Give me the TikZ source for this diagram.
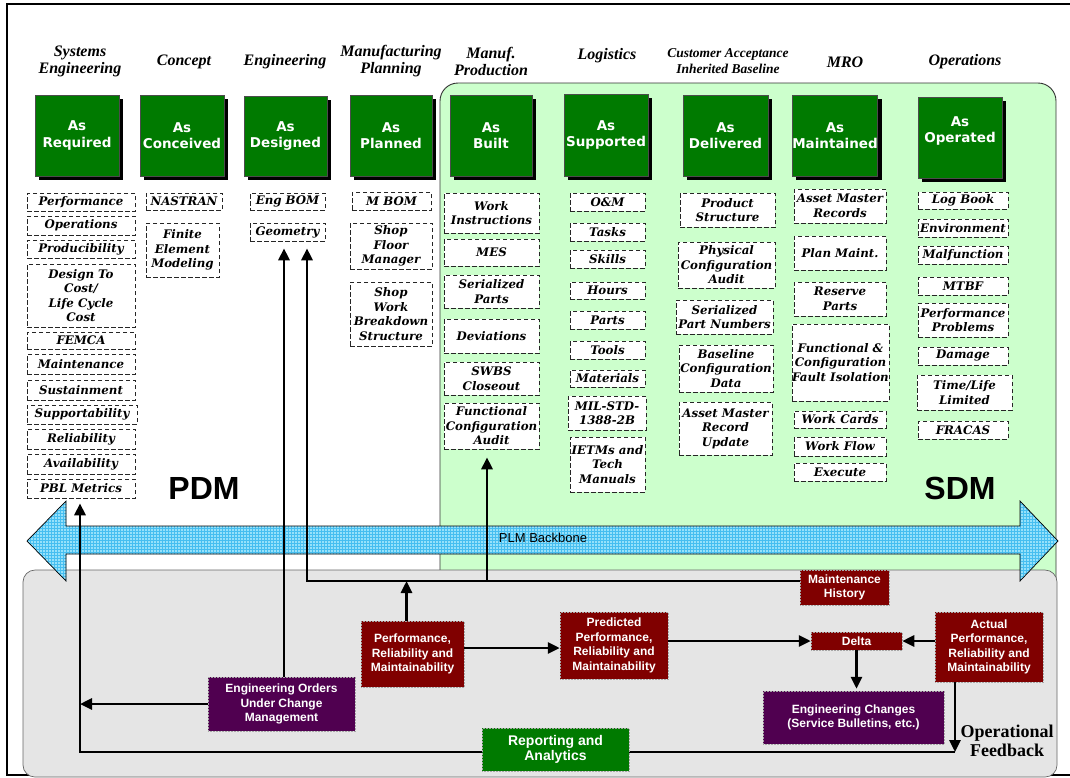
\documentclass[tikz,border=0pt]{standalone}
\usepackage{fontspec}
\setmainfont{Liberation Serif}
\setsansfont{Liberation Sans}
\newfontfamily\itemfont{DejaVu Serif}
\newfontfamily\asfont{DejaVu Sans}
\usetikzlibrary{arrows.meta,shadows,patterns}
\definecolor{hdrgreen}{RGB}{0,122,0}
\definecolor{sdmgreen}{RGB}{204,255,204}
\definecolor{bggray}{RGB}{229,229,229}
\definecolor{darkred}{RGB}{128,0,0}
\definecolor{darkpurple}{RGB}{80,0,80}
\definecolor{bbcyan}{RGB}{150,225,250}
\definecolor{gridcyan}{RGB}{70,190,240}
\newcommand{\mkitem}[6]{\node[item, minimum width={(#4-#2)*1pt}, minimum height={(#5-#3)*1pt}] (#1) at ({(#2+#4)/2},{(#3+#5)/2}) {#6};}
\newcommand{\mkas}[6]{\node[asbox, minimum width={(#4-#2)*1pt}, minimum height={(#5-#3)*1pt}] (#1) at ({(#2+#4)/2},{(#3+#5)/2}) {#6};}
\newcommand{\mkblock}[7]{\node[block, fill=#7, minimum width={(#4-#2)*1pt}, minimum height={(#5-#3)*1pt}] (#1) at ({(#2+#4)/2},{(#3+#5)/2}) {#6};}
\begin{document}
\begin{tikzpicture}[x=1pt,y=-1pt,
  phase/.style={font=\bfseries\itshape\fontsize{16}{17}\selectfont, align=center, inner sep=0pt},
  phasesmall/.style={font=\bfseries\itshape\fontsize{13.5}{15.5}\selectfont, align=center, inner sep=0pt},
  astext/.style={text=white, font=\asfont\bfseries\fontsize{13.5}{16.5}\selectfont, align=center, inner sep=0pt},
  asbox/.style={astext, fill=hdrgreen, draw=black!70, line width=0.5pt,
     drop shadow={opacity=1, fill=black, shadow xshift=4pt, shadow yshift=-4pt}},
  item/.style={draw=black!85, fill=white, line width=0.6pt, dash pattern=on 4.5pt off 2.5pt,
     font=\itemfont\bfseries\itshape\fontsize{11.8}{14.5}\selectfont, align=center, inner sep=0pt},
  block/.style={draw=gray!70, densely dotted, line width=0.5pt, text=white,
     font=\sffamily\bfseries\fontsize{12}{14.5}\selectfont, align=center, inner sep=0pt},
  conn/.style={line width=2.8pt, draw=black},
  arr/.style={conn, -{Triangle[length=12pt,width=11pt]}},
  bigtag/.style={font=\sffamily\bfseries\fontsize{32}{34}\selectfont, inner sep=0pt}
]
\useasboundingbox (0,0) rectangle (1070,777);
\clip (0,0) rectangle (1070,777);
% outer frame
\draw[line width=1.4pt, fill=white] (7,4) rectangle (1080,775);
% SDM region
\draw[fill=sdmgreen, draw=black!80, line width=0.9pt, rounded corners=18pt] (440,600) -- (440,83) -- (1056,83) -- (1056,600);
% gray region
\draw[fill=bggray, draw=black!60, line width=0.7pt, rounded corners=12pt] (23,570) rectangle (1057,777);
% backbone
\draw[preaction={fill=bbcyan}, pattern=grid, pattern color=gridcyan, line width=0.7pt]
  (27,541) -- (66,501) -- (66,526) -- (1020,526) -- (1020,501) -- (1058,541) -- (1020,581) -- (1020,554) -- (66,554) -- (66,581) -- cycle;
\node[font=\sffamily\fontsize{13}{15}\selectfont, inner sep=0pt] (plm) at (543,538) {PLM Backbone};

% phase headers
\node[phase] (h1) at (80,61) {Systems\\Engineering};
\node[phase] (h2) at (184,62) {Concept};
\node[phase] (h3) at (285,62) {Engineering};
\node[phase] (h4) at (391,61) {Manufacturing\\Planning};
\node[phase] (h5) at (491,61) {Manuf.\\Production};
\node[phase] (h6) at (607,56) {Logistics};
\node[phasesmall] (h7) at (728,61) {Customer Acceptance\\Inherited Baseline};
\node[phase] (h8) at (845,62) {MRO};
\node[phase] (h9) at (965,62) {Operations};

% As boxes
\mkas{req}{35}{95}{119}{176}{As\\Required}
\mkas{con}{140}{95}{224}{176}{As\\Conceived}
\mkas{des}{244}{96}{327}{176}{As\\Designed}
\mkas{pla}{350}{95}{432}{176}{As\\Planned}
\mkas{bui}{450}{95}{532}{176}{As\\Built}
\mkas{sup}{564}{94}{648}{176}{As\\Supported}
\mkas{del}{683}{95}{768}{176}{As\\Delivered}
\mkas{mai}{793}{95}{877}{176}{As\\Maintained}
\mkas{ope}{918}{97}{1002}{178}{}
\node[astext] (opetext) at (960,131) {As\\Operated};

% column 1
\mkitem{perf}{27}{193}{135}{211}{Performance}
\mkitem{oper}{27}{216}{135}{235}{Operations}
\mkitem{prod}{27}{240}{135}{258}{Producibility}
\mkitem{dtc}{27}{264}{135}{327}{Design To\\Cost/\\Life Cycle\\Cost}
\mkitem{femca}{27}{332}{135}{349}{FEMCA}
\mkitem{maint}{27}{354}{135}{374}{Maintenance}
\mkitem{sust}{27}{380}{135}{400}{Sustainment}
\mkitem{suppt}{27}{405}{137}{424}{Supportability}
\mkitem{rel}{27}{429}{135}{449}{Reliability}
\mkitem{avail}{27}{454}{135}{474}{Availability}
\mkitem{pbl}{27}{479}{135}{498}{PBL Metrics}
% column 2
\mkitem{nastran}{146}{193}{222}{210}{NASTRAN}
\mkitem{fem}{146}{223}{219}{277}{Finite\\Element\\Modeling}
% column 3
\mkitem{engbom}{250}{193}{325}{210}{Eng BOM}
\mkitem{geom}{250}{223}{325}{241}{Geometry}
% column 4
\mkitem{mbom}{352}{192}{431}{210}{M BOM}
\mkitem{sfm}{350}{223}{432}{269}{Shop\\Floor\\Manager}
\mkitem{swbs}{350}{282}{432}{346}{Shop\\Work\\Breakdown\\Structure}
% column 5
\mkitem{wi}{444}{193}{539}{233}{Work\\Instructions}
\mkitem{mes}{444}{239}{539}{266}{MES}
\mkitem{serp}{444}{275}{539}{308}{Serialized\\Parts}
\mkitem{dev}{444}{319}{539}{353}{Deviations}
\mkitem{swbsc}{444}{362}{539}{395}{SWBS\\Closeout}
\mkitem{fca}{444}{403}{539}{449}{Functional\\Configuration\\Audit}
% column 6
\mkitem{om}{570}{193}{645}{211}{O\&M}
\mkitem{tasks}{570}{223}{645}{241}{Tasks}
\mkitem{skills}{570}{250}{645}{268}{Skills}
\mkitem{hours}{570}{282}{645}{299}{Hours}
\mkitem{parts}{570}{311}{645}{329}{Parts}
\mkitem{tools}{570}{341}{645}{359}{Tools}
\mkitem{mat}{570}{370}{645}{387}{Materials}
\mkitem{mil}{568}{396}{646}{430}{MIL-STD-\\1388-2B}
\mkitem{ietm}{570}{437}{645}{492}{IETMs and\\Tech\\Manuals}
% column 7
\mkitem{ps}{680}{193}{775}{227}{Product\\Structure}
\mkitem{pca}{678}{242}{775}{288}{Physical\\Configuration\\Audit}
\mkitem{spn}{676}{300}{773}{334}{Serialized\\Part Numbers}
\mkitem{bcd}{679}{345}{773}{392}{Baseline\\Configuration\\Data}
\mkitem{amru}{679}{402}{772}{455}{Asset Master\\Record\\Update}
% column 8
\mkitem{amr}{794}{189}{886}{223}{Asset Master\\Records}
\mkitem{pm}{794}{236}{886}{270}{Plan Maint.}
\mkitem{rp}{794}{282}{886}{316}{Reserve\\Parts}
\mkitem{fcfi}{792}{324}{889}{401}{Functional \&\\Configuration\\Fault Isolation}
\mkitem{wc}{794}{411}{886}{428}{Work Cards}
\mkitem{wf}{794}{437}{886}{456}{Work Flow}
\mkitem{exe}{794}{463}{886}{481}{Execute}
% column 9
\mkitem{lb}{918}{192}{1008}{209}{Log Book}
\mkitem{env}{918}{219}{1008}{237}{Environment}
\mkitem{mal}{918}{246}{1008}{264}{Malfunction}
\mkitem{mtbf}{918}{277}{1008}{295}{MTBF}
\mkitem{pp}{918}{303}{1008}{337}{Performance\\Problems}
\mkitem{dmg}{918}{347}{1008}{365}{Damage}
\mkitem{tll}{917}{375}{1012}{410}{Time/Life\\Limited}
\mkitem{fracas}{918}{421}{1008}{439}{FRACAS}

\node[bigtag] (pdm) at (204,488) {PDM};
\node[bigtag] (sdm) at (960,488) {SDM};

% bottom blocks
\mkblock{eo}{208}{677}{355}{731}{Engineering Orders\\Under Change\\Management}{darkpurple}
\mkblock{prm}{361}{621}{464}{687}{Performance,\\Reliability and\\Maintainability}{darkred}
\mkblock{pred}{560}{612}{668}{679}{Predicted\\Performance,\\Reliability and\\Maintainability}{darkred}
\mkblock{mh}{800}{570}{889}{605}{Maintenance\\History}{darkred}
\mkblock{delta}{811}{632}{902}{650}{Delta}{darkred}
\mkblock{act}{935}{612}{1043}{682}{Actual\\Performance,\\Reliability and\\Maintainability}{darkred}
\mkblock{ec}{763}{691}{944}{744}{Engineering Changes\\(Service Bulletins, etc.)}{darkpurple}

% connectors
\coordinate (j1) at (307,581);
\coordinate (j2) at (487,581);
\coordinate (c1) at (955,752);
\coordinate (c2) at (80,752);
\draw[arr, shorten >=7pt] (j1 -| mh.west) -- (j1) -- (j1 |- geom.south);
\draw[arr, shorten >=8pt] (j2) -- (j2 |- fca.south);
\draw[arr, shorten >=7pt] ([xshift=2.5pt]eo.north) -- ([xshift=2.5pt]eo.north |- geom.south);
\draw[arr] ([xshift=-6pt]prm.north) -- ([xshift=-6pt]prm.north |- j1);
\draw[arr] ([yshift=6pt]prm.east) -- ([yshift=6pt]prm.east -| pred.west);
\draw[arr] (pred.east |- delta.west) -- (delta.west);
\draw[arr] (act.west |- delta.east) -- (delta.east);
\draw[arr, shorten >=2pt] (delta.south) -- (delta.south |- ec.north);
\draw[arr] (c1 |- act.south) -- (c1);
\draw[arr, shorten >=5pt] (c1) -- (c2) -- (c2 |- pbl.south);
\draw[arr] (eo.west) -- (eo.west -| c2);

\mkblock{rep}{482}{728}{629}{771}{\fontsize{14}{16}\selectfont Reporting and\\\fontsize{14}{16}\selectfont Analytics}{hdrgreen}

\node[font=\bfseries\fontsize{18}{18.5}\selectfont, align=center, inner sep=0pt] (opfb) at (1007,741) {Operational\\Feedback};
\end{tikzpicture}
\end{document}
